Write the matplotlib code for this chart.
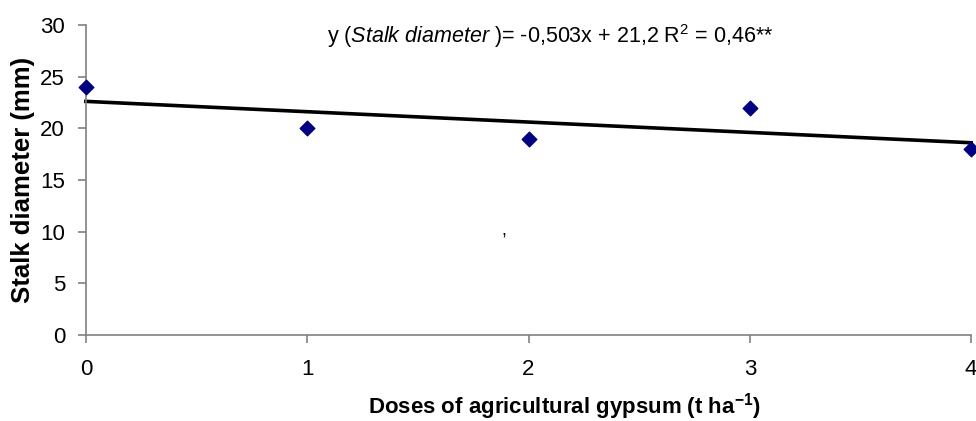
import numpy as np
import matplotlib.pyplot as plt

plt.rcParams['font.family'] = ['Liberation Sans', 'DejaVu Sans']
plt.rcParams['mathtext.fontset'] = 'custom'
plt.rcParams['mathtext.rm'] = 'Liberation Sans'
plt.rcParams['mathtext.it'] = 'Liberation Sans:italic'
plt.rcParams['mathtext.bf'] = 'Liberation Sans:bold'

# data
doses = [0, 1, 2, 3, 4]
stalk_diameter = [24, 20, 19, 22, 18]
x_ticks = [0, 1, 2, 3, 4]
y_ticks = [0, 5, 10, 15, 20, 25, 30]

fig = plt.figure(figsize=(9.76, 4.21), dpi=100)
ax = fig.add_axes([0.088, 0.204, 0.907, 0.737])

# linear trend line
slope, intercept = np.polyfit(doses, stalk_diameter, 1)
xs = np.array([doses[0], doses[-1]])
ax.plot(xs, slope * xs + intercept, color='black', lw=2.6, zorder=2, clip_on=False)

ax.scatter(doses, stalk_diameter, marker='D', s=55, color='#000080', zorder=3, clip_on=False)

ax.set_xlim(0, 4)
ax.set_ylim(0, 30)
ax.set_xticks(x_ticks)
ax.set_yticks(y_ticks)

for side in ['top', 'right']:
    ax.spines[side].set_visible(False)
for side in ['left', 'bottom']:
    ax.spines[side].set_color('#808080')
    ax.spines[side].set_linewidth(1.2)
ax.tick_params(axis='both', colors='#808080', labelcolor='black', labelsize=16, length=6, width=1.2)
ax.tick_params(axis='x', pad=11)
ax.tick_params(axis='y', pad=9)

ax.set_xlabel('Doses of agricultural gypsum (t ha$^{\\mathbf{-1}}$)', fontsize=16, fontweight='bold', labelpad=8)
ax.xaxis.label.set_x(0.541)
ax.set_ylabel('Stalk diameter (mm)', fontsize=18.5, fontweight='bold', labelpad=4)

ax.text(0.525, 0.942, 'y ($\\mathit{Stalk\\ diameter}$ )= -0,503x + 21,2 R$^{\\mathrm{2}}$ = 0,46**',
        transform=ax.transAxes, fontsize=15.5, ha='center', va='baseline')

# stray comma in the original
ax.text(0.4725, 0.32, ',', transform=ax.transAxes, fontsize=13, ha='center')

fig.savefig('out.png', dpi=100)
